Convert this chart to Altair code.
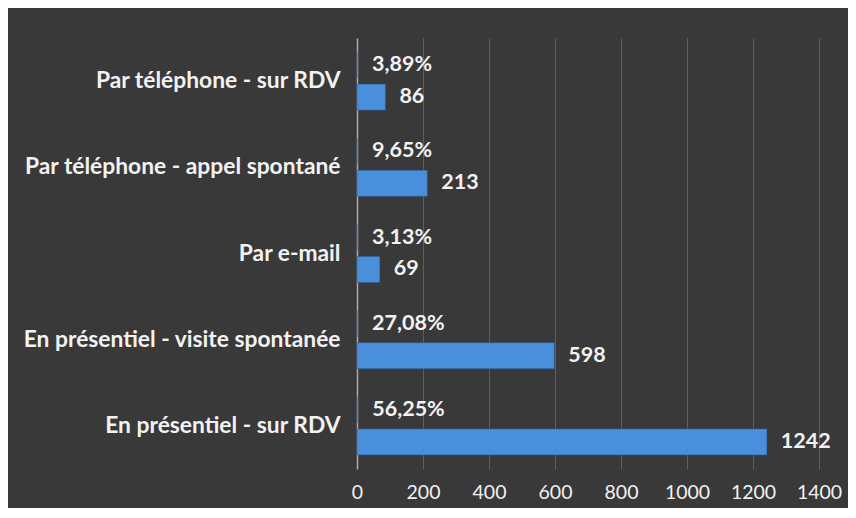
import altair as alt
import pandas as pd

categories = [
    "Par téléphone - sur RDV",
    "Par téléphone - appel spontané",
    "Par e-mail ",
    "En présentiel - visite spontanée",
    "En présentiel - sur RDV",
]
counts = [86, 213, 69, 598, 1242]
pcts = [3.89, 9.65, 3.13, 27.08, 56.25]
pct_labels = ["3,89%", "9,65%", "3,13%", "27,08%", "56,25%"]
x_ticks = [0, 200, 400, 600, 800, 1000, 1200, 1400]

rows = []
for c, n, p, pl in zip(categories, counts, pcts, pct_labels):
    rows.append({"cat": c, "series": "pct", "value": p / 100, "label": pl})
    rows.append({"cat": c, "series": "count", "value": n, "label": str(n)})
df = pd.DataFrame(rows)

FONT = "Lato"
TXT = "#f2f2f2"

y_enc = alt.Y("cat:N", sort=categories, title=None,
              scale=alt.Scale(paddingInner=0, paddingOuter=0),
              axis=alt.Axis(labelFont=FONT, labelFontSize=22.8, labelFontWeight="bold",
                            labelColor=TXT, labelPadding=17, ticks=False,
                            domain=True, domainColor="#b9a89a", domainWidth=1.5,
                            labelLimit=400))
x_enc = alt.X("value:Q", title=None,
              scale=alt.Scale(domain=[0, 1400], nice=False),
              axis=alt.Axis(values=x_ticks, format="d", labelFont=FONT, labelFontSize=19.5,
                            labelColor=TXT, labelPadding=14, labelFlush=False,
                            ticks=False, domain=False,
                            grid=True, gridColor="#5e5e5e", gridWidth=1))
yoff = alt.YOffset("series:N", sort=["pct", "count"],
                   scale=alt.Scale(domain=["pct", "count"], paddingInner=0.1875,
                                   paddingOuter=0.441))

base = alt.Chart(df).encode(y=y_enc, yOffset=yoff)

bars = base.mark_bar(stroke="#2a5d99", strokeWidth=0.5).encode(
    x=x_enc,
    color=alt.Color("series:N", legend=None,
                    scale=alt.Scale(domain=["pct", "count"], range=["#e07b39", "#4a8fdc"])),
)

labels_pct = base.transform_filter(alt.datum.series == "pct").mark_text(
    align="left", baseline="middle", dx=15, font=FONT, fontSize=21.5,
    fontWeight="bold", color=TXT
).encode(x=alt.X("value:Q"), text="label:N")

labels_cnt = base.transform_filter(alt.datum.series == "count").mark_text(
    align="left", baseline="middle", dx=14, font=FONT, fontSize=21.5,
    fontWeight="bold", color=TXT
).encode(x=alt.X("value:Q"), text="label:N")

chart = alt.layer(bars, labels_pct, labels_cnt).properties(
    width=462, height=431,
    background="#393939",
    padding={"left": 349, "top": 30, "right": 29, "bottom": 39},
    autosize=alt.AutoSizeParams(type="none"),
).configure_view(stroke=None)

chart.save("out.html", embed_options={"renderer": "svg", "actions": False})
